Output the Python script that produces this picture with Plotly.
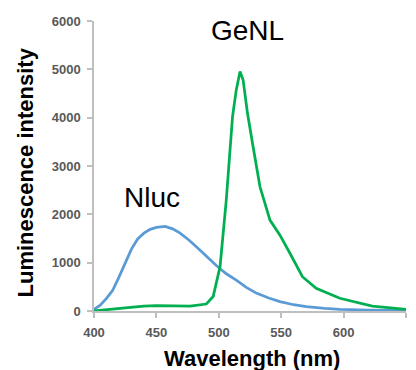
import plotly.graph_objects as go

nluc_wl = [400, 405, 410, 415, 420, 425, 430, 435, 440, 445, 450, 457, 463, 469, 476, 482, 490, 498, 506, 514, 522, 530, 540, 549, 560, 570, 585, 597, 620, 650]
nluc_val = [35, 120, 260, 430, 700, 1000, 1280, 1490, 1610, 1690, 1730, 1750, 1700, 1610, 1470, 1330, 1130, 940, 770, 640, 490, 370, 270, 195, 130, 90, 55, 35, 20, 10]

genl_wl = [400, 410, 423, 440, 450, 477, 490, 495.5, 501, 506, 511, 514, 517, 519.5, 523, 527, 533, 541, 549, 557, 567, 578, 597, 623, 650]
genl_val = [0, 20, 60, 100, 110, 100, 145, 300, 917, 2300, 4020, 4575, 4955, 4780, 4090, 3470, 2570, 1880, 1570, 1195, 710, 470, 263, 103, 35]

x_ticks = [400, 450, 500, 550, 600, 650]
y_ticks = [0, 1000, 2000, 3000, 4000, 5000, 6000]

FONT = "Liberation Sans, Arial, sans-serif"

fig = go.Figure()
fig.add_trace(go.Scatter(x=nluc_wl, y=nluc_val, mode="lines", name="Nluc",
                         line=dict(color="#5b9bd5", width=2.75)))
fig.add_trace(go.Scatter(x=genl_wl, y=genl_val, mode="lines", name="GeNL",
                         line=dict(color="#00b050", width=2.75)))

fig.add_annotation(x=446.5, y=2350, text="Nluc", showarrow=False,
                   font=dict(family=FONT, size=28, color="black"))
fig.add_annotation(x=523, y=5800, text="GeNL", showarrow=False,
                   font=dict(family=FONT, size=28, color="black"))

# axis titles as annotations for exact placement
fig.add_annotation(xref="paper", yref="paper", x=0.508, y=0, yshift=-47,
                   xanchor="center", yanchor="middle", showarrow=False,
                   text="Wavelength (nm)",
                   font=dict(family=FONT, size=22, color="black", weight="bold"))
fig.add_annotation(xref="paper", yref="paper", x=0, y=0.4776, xshift=-69,
                   xanchor="center", yanchor="middle", showarrow=False,
                   textangle=-90, text="Luminescence intensity",
                   font=dict(family=FONT, size=22, color="black", weight="bold"))

axis_common = dict(showgrid=False, zeroline=False, showline=True,
                   linecolor="#bfbfbf", linewidth=1.5, ticks="outside",
                   tickcolor="#bfbfbf", ticklen=5, tickwidth=1.5,
                   ticklabelstandoff=4, automargin=False,
                   tickfont=dict(family=FONT, size=13, color="#595959", weight="bold"))

fig.update_xaxes(range=[400, 650], tickvals=x_ticks, **axis_common)
fig.update_yaxes(range=[0, 6000], tickvals=y_ticks, **axis_common)

fig.update_layout(width=416, height=370, margin=dict(l=94, r=10, t=21, b=59),
                  plot_bgcolor="white", paper_bgcolor="white", showlegend=False)

fig.write_html("out.html")
